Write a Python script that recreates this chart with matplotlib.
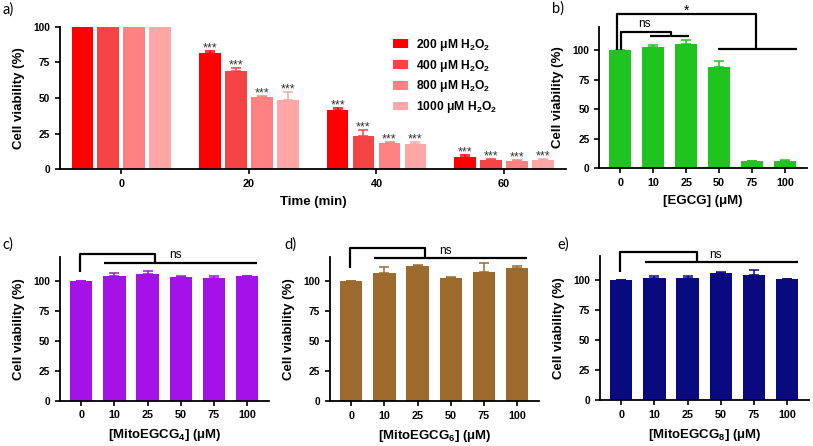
import numpy as np
import matplotlib
matplotlib.use("Agg")
import matplotlib.pyplot as plt

plt.rcParams['font.family'] = ['Liberation Sans', 'DejaVu Sans']
plt.rcParams['mathtext.fontset'] = 'custom'
plt.rcParams['mathtext.rm'] = 'Liberation Sans:bold'
plt.rcParams['mathtext.it'] = 'Liberation Sans:bold'
plt.rcParams['mathtext.bf'] = 'Liberation Sans:bold'

# ---------------- data ----------------
times = [0, 20, 40, 60]
h2o2_labels = ['200 μM H$_2$O$_2$', '400 μM H$_2$O$_2$', '800 μM H$_2$O$_2$', '1000 μM H$_2$O$_2$']
h2o2_colors = ['#FF0000', '#F54444', '#FF8282', '#FFA6A6']
# rows: concentration, columns: time
h2o2_vals = [
    [100, 81.8, 41.4, 8.8],
    [100, 69.2, 23.8, 6.6],
    [100, 50.9, 18.5, 6.3],
    [100, 48.4, 18.0, 6.6],
]
h2o2_errs = [
    [0, 1.1, 1.9, 1.4],
    [0, 1.6, 3.8, 0.6],
    [0, 0.5, 0.9, 0.4],
    [0, 6.0, 1.4, 0.9],
]

conc_labels = ['0', '10', '25', '50', '75', '100']
egcg_vals = [100, 102.8, 105.6, 85.9, 5.9, 5.9]
egcg_errs = [0, 2.0, 3.1, 4.8, 0.4, 0.8]
m4_vals = [100, 104.2, 105.6, 103.0, 101.9, 103.6]
m4_errs = [0, 2.5, 2.7, 1.2, 2.0, 0.6]
m6_vals = [100, 106.7, 112.8, 102.5, 108.0, 110.8]
m6_errs = [0, 5.5, 1.1, 0.8, 7.0, 2.0]
m8_vals = [100, 101.7, 101.7, 106.1, 104.2, 100.8]
m8_errs = [0, 1.7, 1.7, 0.9, 3.9, 0.3]

W, H = 813, 446
fig = plt.figure(figsize=(W / 100, H / 100), dpi=100)

def add_ax(l, r, t, b):
    return fig.add_axes([l / W, 1 - b / H, (r - l) / W, (b - t) / H])

def style(ax):
    for s in ['top', 'right']:
        ax.spines[s].set_visible(False)
    for s in ['left', 'bottom']:
        ax.spines[s].set_linewidth(1.3)
    ax.tick_params(axis='both', direction='out', length=3.5, width=1.2)
    for lab in ax.get_yticklabels():
        lab.set_fontweight('bold'); lab.set_fontsize(7.3)
    for lab in ax.get_xticklabels():
        lab.set_fontweight('bold'); lab.set_fontsize(7.8)

# ---------------- panel a ----------------
axa = add_ax(60, 566, 26.7, 169.5)
offs = [-6.1, -2.04, 2.04, 6.1]
tarr = np.array(times, dtype=float)
for i in range(4):
    v = np.array(h2o2_vals[i]); e = np.array(h2o2_errs[i])
    axa.bar(tarr + offs[i], v, width=3.38, color=h2o2_colors[i], label=h2o2_labels[i],
            yerr=[np.zeros_like(e), e], capsize=3.4,
            error_kw=dict(ecolor=h2o2_colors[i], elinewidth=1.1, capthick=1.1))
    for j in range(1, 4):
        axa.text(tarr[j] + offs[i], v[j] + e[j] - 0.2, '***', ha='center', va='baseline',
                 fontsize=9, color='#333333')
axa.set_xlim(-9.6, 69.7)
axa.set_ylim(0, 100)
axa.set_xticks(times)
axa.set_yticks([0, 25, 50, 75, 100])
axa.set_xlabel('Time (min)', fontsize=9.5, fontweight='bold', labelpad=5)
axa.set_ylabel('Cell viability (%)', fontsize=9.5, fontweight='bold', labelpad=6)
style(axa)
leg = axa.legend(loc='upper left', bbox_to_anchor=(0.658, 0.93), frameon=False,
                 prop=dict(size=8.7, weight='bold'), borderpad=0, borderaxespad=0,
                 handlelength=1.25, handleheight=0.75, handletextpad=0.65, labelspacing=0.4)

# ---------------- small panels ----------------
def small_panel(l, r, t, b, vals, errs, color, xlabel):
    ax = add_ax(l, r, t, b)
    x = np.arange(len(conc_labels))
    v = np.array(vals); e = np.array(errs)
    ax.bar(x, v, width=0.67, color=color,
           yerr=[np.zeros_like(e), e], capsize=3.8,
           error_kw=dict(ecolor=color, elinewidth=1.1, capthick=1.1))
    ax.set_xlim(-0.64, 5.66)
    ax.set_ylim(0, 120)
    ax.set_xticks(x)
    ax.set_xticklabels(conc_labels)
    ax.set_yticks([0, 25, 50, 75, 100])
    ax.set_xlabel(xlabel, fontsize=9.5, fontweight='bold', labelpad=5)
    ax.set_ylabel('Cell viability (%)', fontsize=9.5, fontweight='bold', labelpad=6)
    style(ax)
    return ax

def bracket(ax, segs):
    for (xs, ys) in segs:
        ax.plot(xs, ys, color='black', lw=1.6, clip_on=False, solid_capstyle='butt')

axb = small_panel(599.3, 806.7, 26.7, 168.3, egcg_vals, egcg_errs, '#1FC41F', '[EGCG] (μM)')
bracket(axb, [([-0.09, -0.09, 4.12, 4.12], [100, 130.5, 130.5, 101.4]),
              ([2.96, 5.36], [101.4, 101.4]),
              ([0.03, 0.03, 1.53, 1.53], [100, 115.5, 115.5, 111.8]),
              ([0.89, 2.07], [111.8, 111.8])])
axb.text(2.0, 129.8, '*', ha='center', va='baseline', fontsize=10, clip_on=False)
axb.text(0.74, 122.5, 'ns', ha='center', va='center', fontsize=8.5, clip_on=False)

def ns_panel(ax, yl, ytop, ylow, xr, x0, x1, xend, ytxt):
    bracket(ax, [([x0, x0, xr, xr], [yl, ytop, ytop, ylow]),
                 ([x1, xend], [ylow, ylow])])
    ax.text(2.83, ytxt, 'ns', ha='center', va='center', fontsize=8.5, clip_on=False)

axc = small_panel(60, 269, 256.7, 400.7, m4_vals, m4_errs, '#A412E8', '[MitoEGCG$_4$] (μM)')
ns_panel(axc, 107, 122.2, 114.4, 2.23, -0.05, 0.68, 5.3, 121.4)
axd = small_panel(330, 539, 257.3, 401.3, m6_vals, m6_errs, '#9C6A2C', '[MitoEGCG$_6$] (μM)')
ns_panel(axd, 110.8, 127.5, 119.2, 2.23, -0.05, 0.68, 5.3, 125.5)
axe = small_panel(600, 809, 256, 400, m8_vals, m8_errs, '#0A0A80', '[MitoEGCG$_8$] (μM)')
ns_panel(axe, 106.7, 123.5, 115.0, 2.28, -0.03, 0.73, 5.32, 121.2)

# panel labels
for txt, px, py in [('a)', 2, 10), ('b)', 552, 9), ('c)', 2, 245), ('d)', 284, 245), ('e)', 557, 245)]:
    fig.text(px / W, 1 - py / H, txt, fontsize=10.5, family=['Lato', 'DejaVu Sans'],
             ha='left', va='center')

fig.savefig('out.png', dpi=100)
